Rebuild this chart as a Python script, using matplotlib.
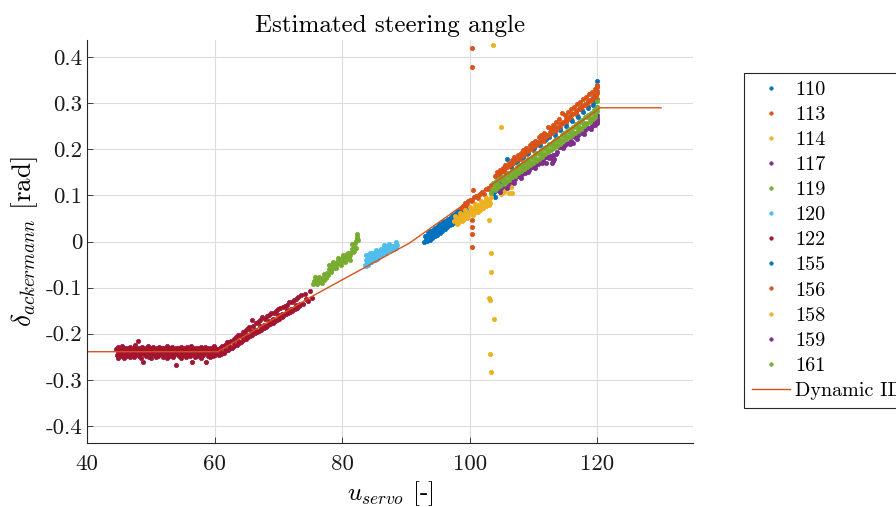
import matplotlib
matplotlib.use("Agg")
import matplotlib.pyplot as plt

plt.rcParams['font.family'] = 'serif'
plt.rcParams['font.serif'] = ['cmr10', 'DejaVu Serif']
plt.rcParams['mathtext.fontset'] = 'cm'
plt.rcParams['axes.unicode_minus'] = False

###################
# Data (read off) #
###################

x110 = [92.9, 93.1, 93.3, 93.5, 93.7, 93.9, 94.1, 94.3, 94.5, 94.7,
        94.9, 95.1, 95.3, 95.5, 95.7, 95.9, 96.1, 96.3, 96.5, 96.7,
        96.9, 97.1, 97.3, 97.5, 97.7, 97.9, 98.1, 98.3, 98.5, 98.7,
        98.9, 99.1, 99.3, 99.5,
        93.0, 93.4, 93.8, 94.2, 94.6, 95.0, 95.4, 95.8, 96.2, 96.6,
        97.0, 97.4, 97.8, 98.2, 98.6, 99.0, 99.6]
y110 = [0.000, 0.006, 0.001, 0.009, 0.004, 0.013, 0.008, 0.017, 0.011, 0.020,
        0.015, 0.024, 0.019, 0.029, 0.022, 0.033, 0.027, 0.037, 0.031, 0.041,
        0.035, 0.046, 0.039, 0.050, 0.042, 0.053, 0.047, 0.057, 0.050, 0.060,
        0.055, 0.064, 0.058, 0.067,
        0.013, 0.018, 0.022, 0.026, 0.029, 0.034, 0.037, 0.042, 0.045, 0.049,
        0.053, 0.057, 0.061, 0.066, 0.068, 0.072, 0.076]

x113 = [100.4, 100.4, 100.5, 100.3, 100.4, 100.3, 100.4,
        98.6, 98.9, 99.2, 99.5, 99.8, 100.1, 100.4, 100.7, 101.0, 101.3,
        101.6, 101.9, 102.2, 102.5, 102.8, 103.1, 103.4,
        104.6, 105.5, 106.4, 107.2, 108.1, 109.0, 109.9, 110.7, 111.6, 112.5,
        113.4, 114.2, 115.1, 115.9, 116.8, 117.6, 118.5, 119.3, 119.9, 120.0]
y113 = [0.419, 0.379, 0.111, 0.046, 0.031, 0.016, -0.012,
        0.072, 0.078, 0.083, 0.080, 0.088, 0.091, 0.087, 0.096, 0.099, 0.095,
        0.104, 0.108, 0.104, 0.113, 0.117, 0.114, 0.122,
        0.143, 0.151, 0.162, 0.172, 0.180, 0.190, 0.199, 0.210, 0.218, 0.228,
        0.238, 0.247, 0.256, 0.266, 0.275, 0.285, 0.293, 0.302, 0.310, 0.322]

x114 = [103.7, 104.85, 103.1, 103.3, 103.3, 103.1, 103.2, 103.8, 103.2, 103.3]
y114 = [0.426, 0.248, 0.046, -0.026, -0.066, -0.123, -0.127, -0.168, -0.244, -0.283]

x117 = [105.2, 106.3, 107.4, 108.5, 109.6, 110.6, 110.7, 111.8, 112.9, 113.0,
        113.0, 114.0, 115.1, 116.2, 117.3, 118.4, 119.5, 119.9, 120.0, 120.0]
y117 = [0.123, 0.132, 0.142, 0.151, 0.162, 0.175, 0.168, 0.184, 0.171, 0.180,
        0.188, 0.205, 0.212, 0.228, 0.239, 0.249, 0.258, 0.262, 0.268, 0.274]

x119 = [75.5, 75.6, 75.8, 76.0, 76.1, 76.3, 76.5, 76.7, 76.9, 77.0,
        77.2, 77.4, 77.6, 77.8, 77.9, 78.1, 78.3, 78.4, 78.6, 78.8,
        79.0, 79.1, 79.3, 79.5, 79.7, 79.9, 80.0, 80.2, 80.4, 80.6,
        80.8, 81.0, 81.1, 81.3, 81.5, 81.7, 81.8, 82.0, 82.1, 82.3,
        82.4, 82.5,
        75.7, 76.0, 76.4, 76.8, 77.1, 77.5, 77.9, 78.2, 78.6, 79.0,
        79.4, 79.8, 80.1, 80.5, 80.9, 81.2, 81.6, 81.9, 82.2, 82.4]
y119 = [-0.093, -0.085, -0.090, -0.084, -0.091, -0.087, -0.082, -0.088, -0.084, -0.079,
        -0.083, -0.075, -0.068, -0.072, -0.060, -0.055, -0.061, -0.049, -0.053, -0.057,
        -0.046, -0.050, -0.042, -0.047, -0.038, -0.043, -0.035, -0.040, -0.032, -0.037,
        -0.028, -0.034, -0.024, -0.030, -0.017, -0.023, -0.010, -0.003, -0.013, 0.007,
        0.016, 0.003,
        -0.078, -0.092, -0.076, -0.090, -0.070, -0.080, -0.052, -0.066, -0.045, -0.058,
        -0.036, -0.052, -0.030, -0.044, -0.024, -0.040, -0.006, -0.020, 0.002, 0.010]

x120 = [83.6, 83.7, 83.9, 84.0, 84.2, 84.3, 84.5, 84.7, 84.8, 85.0,
        85.1, 85.3, 85.5, 85.6, 85.8, 86.0, 86.1, 86.3, 86.5, 86.7,
        86.8, 87.0, 87.2, 87.4, 87.6, 87.8, 88.0, 88.2, 88.4, 88.6,
        83.8, 84.1, 85.2, 84.4, 85.9, 86.9,
        83.7, 84.1, 84.5, 84.9, 85.3, 85.7, 86.1, 86.5, 86.9, 87.3,
        87.7, 88.1, 88.5, 84.6, 85.4, 86.2]
y120 = [-0.050, -0.041, -0.046, -0.035, -0.039, -0.031, -0.036, -0.027, -0.032, -0.024,
        -0.029, -0.033, -0.025, -0.020, -0.027, -0.022, -0.017, -0.024, -0.019, -0.014,
        -0.021, -0.016, -0.012, -0.018, -0.013, -0.009, -0.015, -0.010, -0.013, -0.008,
        -0.054, -0.047, -0.040, -0.025, -0.032, -0.009,
        -0.030, -0.050, -0.026, -0.041, -0.018, -0.034, -0.028, -0.008, -0.025, -0.006,
        -0.019, -0.016, -0.002, -0.044, -0.038, -0.030]

x122 = [44.6, 44.8, 45.0, 45.3, 45.5, 45.7, 45.9, 46.2, 46.4, 46.6,
        46.8, 47.1, 47.3, 47.5, 47.7, 48.0, 48.2, 48.4, 48.6, 48.9,
        49.1, 49.3, 49.5, 49.8, 50.0, 50.2, 50.4, 50.7, 50.9, 51.1,
        51.3, 51.6, 51.8, 52.0, 52.2, 52.5, 52.7, 52.9, 53.1, 53.4,
        53.6, 53.8, 54.0, 54.3, 54.5, 54.7, 54.9, 55.2, 55.4, 55.6,
        55.8, 56.1, 56.3, 56.5, 56.7, 57.0, 57.2, 57.4, 57.6, 57.9,
        58.1, 58.3, 58.5, 58.8, 59.0, 59.2, 59.4, 59.7, 59.9, 60.1,
        44.7, 44.9, 45.2, 45.4, 45.6, 45.8, 46.1, 46.3, 46.5, 46.7,
        47.0, 47.2, 47.4, 47.6, 47.9, 48.1, 48.3, 48.5, 48.8, 49.0,
        49.2, 49.4, 49.7, 49.9, 50.1, 50.3, 50.6, 50.8, 51.0, 51.2,
        51.5, 51.7, 51.9, 52.1, 52.4, 52.6, 52.8, 53.0, 53.3, 53.5,
        53.7, 53.9, 54.2, 54.4, 54.6, 54.8, 55.1, 55.3, 55.5, 55.7,
        56.0, 56.2, 56.4, 56.6, 56.9, 57.1, 57.3, 57.5, 57.8, 58.0,
        58.2, 58.4, 58.7, 58.9, 59.1, 59.3, 59.6, 59.8, 60.0, 60.3,
        44.9, 45.3, 45.7, 46.1, 46.5, 46.9, 47.2, 47.6, 48.0, 48.4,
        48.8, 49.2, 49.6, 50.0, 50.4, 50.8, 51.2, 51.6, 52.0, 52.4,
        52.8, 53.2, 53.6, 54.0, 54.4, 54.8, 55.2, 55.6, 56.0, 56.4,
        56.8, 57.2, 57.6, 58.0, 58.4, 58.8, 59.2, 59.6, 60.0, 60.3,
        60.5, 60.9, 61.2, 61.6, 61.9, 62.3, 62.6, 63.0, 63.3, 63.7,
        64.0, 64.4, 64.7, 65.1, 65.4, 65.8, 66.1, 66.5, 66.8, 67.2,
        67.5, 67.9, 68.2, 68.6, 68.9, 69.3, 69.6, 70.0, 70.3, 70.7,
        71.0, 71.4, 71.7, 72.1, 72.4, 72.8, 73.1, 73.5, 74.2, 75.0,
        60.7, 61.0, 61.4, 61.7, 62.1, 62.4, 62.8, 63.1, 63.5, 63.8,
        64.2, 64.5, 64.9, 65.2, 65.6, 65.9, 66.3, 66.6, 67.0, 67.3,
        67.7, 68.0, 68.4, 68.7, 69.1, 69.4, 69.8, 70.1, 70.5, 70.8,
        71.2, 71.5, 71.9, 72.2, 72.6, 72.9, 73.3, 73.8, 74.6, 75.2,
        60.8, 61.5, 62.2, 62.9, 63.6, 64.3, 65.0, 65.7, 66.4, 67.1,
        67.8, 68.5, 69.2, 69.9, 70.6, 71.3, 72.0, 72.7, 73.4, 74.4]
y122 = [-0.234, -0.229, -0.236, -0.231, -0.227, -0.235, -0.232, -0.238, -0.230, -0.233,
        -0.228, -0.236, -0.231, -0.224, -0.234, -0.216, -0.232, -0.237, -0.229, -0.233,
        -0.235, -0.230, -0.227, -0.236, -0.232, -0.234, -0.229, -0.237, -0.231, -0.233,
        -0.228, -0.235, -0.232, -0.230, -0.236, -0.227, -0.234, -0.231, -0.238, -0.229,
        -0.233, -0.235, -0.230, -0.232, -0.236, -0.228, -0.234, -0.231, -0.237, -0.229,
        -0.233, -0.235, -0.227, -0.232, -0.234, -0.230, -0.236, -0.231, -0.233, -0.228,
        -0.235, -0.232, -0.229, -0.234, -0.231, -0.236, -0.230, -0.233, -0.226, -0.231,
        -0.247, -0.252, -0.243, -0.249, -0.245, -0.253, -0.241, -0.248, -0.244, -0.250,
        -0.246, -0.242, -0.251, -0.247, -0.243, -0.249, -0.245, -0.252, -0.261, -0.244,
        -0.248, -0.242, -0.250, -0.246, -0.253, -0.243, -0.247, -0.251, -0.244, -0.249,
        -0.245, -0.242, -0.250, -0.247, -0.243, -0.252, -0.246, -0.248, -0.244, -0.251,
        -0.247, -0.268, -0.243, -0.249, -0.245, -0.252, -0.246, -0.242, -0.250, -0.247,
        -0.244, -0.248, -0.262, -0.245, -0.251, -0.243, -0.249, -0.246, -0.252, -0.244,
        -0.247, -0.242, -0.262, -0.248, -0.245, -0.251, -0.243, -0.249, -0.246, -0.244,
        -0.240, -0.237, -0.241, -0.238, -0.243, -0.236, -0.240, -0.239, -0.242, -0.237,
        -0.241, -0.238, -0.240, -0.243, -0.236, -0.239, -0.241, -0.238, -0.242, -0.237,
        -0.240, -0.239, -0.243, -0.238, -0.236, -0.241, -0.239, -0.242, -0.237, -0.240,
        -0.238, -0.241, -0.239, -0.243, -0.237, -0.240, -0.238, -0.241, -0.239, -0.236,
        -0.233, -0.230, -0.226, -0.225, -0.219, -0.218, -0.216, -0.211, -0.207, -0.203,
        -0.202, -0.197, -0.194, -0.189, -0.185, -0.170, -0.184, -0.176, -0.174, -0.170,
        -0.164, -0.167, -0.162, -0.159, -0.154, -0.156, -0.150, -0.147, -0.144, -0.143,
        -0.139, -0.137, -0.132, -0.131, -0.126, -0.125, -0.121, -0.117, -0.114, -0.108,
        -0.247, -0.244, -0.242, -0.238, -0.236, -0.232, -0.230, -0.226, -0.224, -0.220,
        -0.217, -0.214, -0.212, -0.208, -0.205, -0.203, -0.199, -0.197, -0.193, -0.191,
        -0.188, -0.185, -0.182, -0.179, -0.176, -0.173, -0.170, -0.167, -0.164, -0.162,
        -0.158, -0.156, -0.152, -0.150, -0.146, -0.144, -0.140, -0.135, -0.129, -0.123,
        -0.238, -0.229, -0.227, -0.218, -0.215, -0.206, -0.203, -0.195, -0.192, -0.183,
        -0.181, -0.172, -0.169, -0.160, -0.158, -0.149, -0.146, -0.138, -0.135, -0.124]

x155 = [103.7, 103.8, 103.9, 104.1, 104.6, 105.2, 105.9, 106.5, 107.4, 108.3,
        109.2, 110.1, 111.0, 111.9, 112.4, 113.3, 114.2, 115.1, 116.0, 116.9,
        117.8, 118.6, 119.3, 119.8, 120.0, 120.0]
y155 = [0.100, 0.108, 0.096, 0.112, 0.128, 0.140, 0.180, 0.163, 0.172, 0.183,
        0.192, 0.202, 0.210, 0.222, 0.226, 0.232, 0.241, 0.251, 0.262, 0.271,
        0.280, 0.290, 0.296, 0.305, 0.348, 0.338]

x156 = [104.0, 104.2, 104.5, 104.7, 104.9, 105.2, 105.4, 105.6, 105.9, 106.1,
        106.3, 106.6, 106.8, 107.0, 107.3, 107.5, 107.7, 108.0, 108.2, 108.4,
        108.7, 108.9, 109.1, 109.4, 109.6, 109.8, 110.1, 110.3, 110.5, 110.8,
        111.0, 111.2, 111.5, 111.7, 111.9, 112.2, 112.4, 112.6, 112.9, 113.1,
        113.3, 113.6, 113.8, 114.0, 114.3, 114.5, 114.7, 115.0, 115.2, 115.4,
        115.7, 115.9, 116.1, 116.4, 116.6, 116.8, 117.1, 117.3, 117.5, 117.8,
        118.0, 118.2, 118.5, 118.7, 118.9, 119.2, 119.4, 119.6, 119.8, 120.0,
        104.1, 104.6, 105.1, 105.6, 106.1, 106.6, 107.1, 107.6, 108.1, 108.6,
        109.1, 109.6, 110.1, 110.6, 111.1, 111.6, 112.1, 112.6, 113.1, 113.6,
        114.1, 114.6, 115.1, 115.6, 116.1, 116.6, 117.1, 117.6, 118.1, 118.6,
        119.1, 119.5, 119.8, 120.0, 120.0]
y156 = [0.142, 0.150, 0.146, 0.156, 0.151, 0.160, 0.155, 0.166, 0.161, 0.171,
        0.165, 0.177, 0.171, 0.183, 0.177, 0.188, 0.181, 0.193, 0.186, 0.199,
        0.192, 0.203, 0.196, 0.210, 0.202, 0.214, 0.207, 0.219, 0.211, 0.226,
        0.216, 0.231, 0.221, 0.236, 0.226, 0.248, 0.232, 0.246, 0.236, 0.252,
        0.241, 0.260, 0.247, 0.265, 0.254, 0.279, 0.258, 0.275, 0.264, 0.281,
        0.270, 0.287, 0.276, 0.292, 0.281, 0.298, 0.287, 0.303, 0.292, 0.309,
        0.297, 0.314, 0.302, 0.319, 0.307, 0.325, 0.313, 0.330, 0.318, 0.335,
        0.142, 0.148, 0.153, 0.159, 0.165, 0.170, 0.176, 0.181, 0.187, 0.193,
        0.198, 0.204, 0.209, 0.215, 0.221, 0.226, 0.232, 0.237, 0.243, 0.249,
        0.254, 0.260, 0.265, 0.271, 0.277, 0.282, 0.288, 0.293, 0.299, 0.305,
        0.310, 0.316, 0.320, 0.326, 0.340]

x158 = [97.6, 97.9, 98.2, 98.5, 98.8, 99.1, 99.4, 99.7, 100.0, 100.3,
        100.6, 100.9, 101.2, 101.5, 101.8, 102.1, 102.4, 102.7, 103.0, 103.3,
        98.0, 98.9, 99.8, 100.7, 101.6, 102.5, 103.2,
        104.9, 105.3, 105.9, 106.2, 106.7, 106.4, 105.6,
        97.7, 98.1, 98.4, 98.8, 99.2, 99.6, 100.1, 100.5, 100.9, 101.3,
        101.7, 102.1, 102.6, 103.0, 99.0]
y158 = [0.044, 0.050, 0.047, 0.055, 0.053, 0.060, 0.058, 0.065, 0.063, 0.070,
        0.068, 0.075, 0.073, 0.080, 0.078, 0.086, 0.084, 0.091, 0.089, 0.096,
        0.038, 0.046, 0.055, 0.061, 0.069, 0.077, 0.084,
        0.104, 0.107, 0.131, 0.106, 0.105, 0.119, 0.113,
        0.055, 0.040, 0.062, 0.045, 0.068, 0.050, 0.074, 0.058, 0.081, 0.065,
        0.087, 0.072, 0.095, 0.080, 0.052]

x159 = [104.4, 104.9, 105.5, 106.0, 106.6, 107.1, 107.7, 108.2, 108.8, 109.3,
        109.9, 110.4, 111.0, 111.5, 112.1, 112.6, 113.2, 113.7, 114.3, 114.8,
        115.4, 115.9, 116.5, 117.0, 117.6, 118.1, 118.7, 119.2, 119.8, 120.0,
        104.7, 105.8, 106.9, 108.0, 109.1, 110.2, 111.3, 112.4, 113.5, 114.6,
        115.7, 116.8, 117.9, 119.0, 119.6, 120.0, 108.6, 111.9, 113.1, 116.2]
y159 = [0.111, 0.116, 0.121, 0.125, 0.130, 0.136, 0.141, 0.146, 0.150, 0.156,
        0.161, 0.168, 0.172, 0.177, 0.183, 0.186, 0.178, 0.195, 0.204, 0.208,
        0.214, 0.219, 0.226, 0.230, 0.236, 0.241, 0.247, 0.251, 0.257, 0.263,
        0.108, 0.117, 0.127, 0.137, 0.150, 0.160, 0.171, 0.182, 0.190, 0.202,
        0.212, 0.223, 0.233, 0.245, 0.252, 0.258, 0.148, 0.170, 0.174, 0.214]

x161 = [103.4, 103.6, 103.9, 104.1, 104.3, 104.6, 104.8, 105.0, 105.3, 105.5,
        105.7, 106.0, 106.2, 106.4, 106.7, 106.9, 107.1, 107.4, 107.6, 107.8,
        108.1, 108.3, 108.5, 108.8, 109.0, 109.2, 109.5, 109.7, 109.9, 110.2,
        110.4, 110.6, 110.9, 111.1, 111.3, 111.6, 111.8, 112.0, 112.3, 112.5,
        112.7, 113.0, 113.2, 113.4, 113.7, 113.9, 114.1, 114.4, 114.6, 114.8,
        115.1, 115.3, 115.5, 115.8, 116.0, 116.2, 116.5, 116.7, 116.9, 117.2,
        117.4, 117.6, 117.9, 118.1, 118.3, 118.6, 118.8, 119.0, 119.3, 119.5,
        119.7, 119.9, 120.0, 120.0,
        103.5, 104.0, 104.5, 105.0, 105.4, 105.9, 106.4, 106.9, 107.4, 107.9,
        108.4, 108.9, 109.4, 109.9, 110.3, 110.8, 111.3, 111.8, 112.3, 112.8,
        113.3, 113.8, 114.3, 114.8, 115.2, 115.7, 116.2, 116.7, 117.2, 117.7,
        118.2, 118.7, 119.2, 119.6, 120.0]
y161 = [0.106, 0.126, 0.112, 0.131, 0.116, 0.135, 0.120, 0.139, 0.125, 0.143,
        0.130, 0.148, 0.134, 0.151, 0.139, 0.156, 0.143, 0.161, 0.148, 0.165,
        0.153, 0.170, 0.157, 0.175, 0.161, 0.179, 0.167, 0.184, 0.171, 0.189,
        0.175, 0.193, 0.180, 0.198, 0.184, 0.203, 0.189, 0.206, 0.194, 0.212,
        0.198, 0.216, 0.203, 0.220, 0.208, 0.225, 0.212, 0.230, 0.217, 0.235,
        0.222, 0.239, 0.226, 0.245, 0.231, 0.249, 0.236, 0.254, 0.240, 0.259,
        0.245, 0.264, 0.250, 0.269, 0.254, 0.274, 0.259, 0.279, 0.265, 0.285,
        0.270, 0.292, 0.305, 0.282,
        0.114, 0.123, 0.124, 0.133, 0.133, 0.141, 0.142, 0.151, 0.152, 0.161,
        0.162, 0.171, 0.172, 0.181, 0.181, 0.190, 0.190, 0.200, 0.200, 0.209,
        0.210, 0.219, 0.220, 0.229, 0.229, 0.238, 0.238, 0.248, 0.248, 0.258,
        0.258, 0.268, 0.268, 0.276, 0.292]

# identified model (piecewise linear)
model_x = [40, 60.5, 75.0, 90.6, 120.5, 130]
model_y = [-0.239, -0.239, -0.121, -0.003, 0.290, 0.290]

series = [('110', x110, y110), ('113', x113, y113), ('114', x114, y114),
          ('117', x117, y117), ('119', x119, y119), ('120', x120, y120),
          ('122', x122, y122), ('155', x155, y155), ('156', x156, y156),
          ('158', x158, y158), ('159', x159, y159), ('161', x161, y161)]

# matlab default colour order
colors = ['#0072BD', '#D95319', '#EDB120', '#7E2F8E', '#77AC30', '#4DBEEE', '#A2142F']

############
# Plotting #
############

fig = plt.figure(figsize=(8.96, 5.07), dpi=100)
ax = fig.add_axes([0.0971, 0.1262, 0.6763, 0.7949])

for i, (name, xs, ys) in enumerate(series):
    ax.plot(xs, ys, '.', color=colors[i % 7], markersize=6.2, mew=0.5, label=name)
ax.plot(model_x, model_y, '-', color='#D95319', linewidth=1.0, label='Dynamic ID')

ax.set_xlim(40, 135)
ax.set_ylim(-0.437, 0.437)
ax.set_xticks([40, 60, 80, 100, 120])
ax.set_xticklabels(['40', '60', '80', '100', '120'])
yt = [-0.4, -0.3, -0.2, -0.1, 0, 0.1, 0.2, 0.3, 0.4]
ax.set_yticks(yt)
ax.set_yticklabels(['-0.4', '-0.3', '-0.2', '-0.1', '0', '0.1', '0.2', '0.3', '0.4'])

ax.grid(True, color='#dcdcdc', linewidth=0.8)
ax.set_axisbelow(True)
for s in ['top', 'right']:
    ax.spines[s].set_visible(False)
for s in ['left', 'bottom']:
    ax.spines[s].set_color('#262626')
    ax.spines[s].set_linewidth(0.8)
ax.tick_params(direction='in', length=4, width=0.6, color='#262626',
               labelsize=16.5, labelcolor='#1a1a1a')
ax.tick_params(axis='x', pad=8)

ax.set_title('Estimated steering angle', fontsize=18, pad=6)
ax.set_xlabel(r'$u_{servo}$ [-]', fontsize=18, labelpad=4)
ax.set_ylabel(r'$\delta_{ackermann}$ [rad]', fontsize=19.5, labelpad=4)

leg = ax.legend(loc='upper left', bbox_to_anchor=(744 / 896, 1 - 73 / 507),
                bbox_transform=fig.transFigure, fontsize=14.5, frameon=True,
                fancybox=False, framealpha=1, edgecolor='#262626',
                handlelength=1.9, handletextpad=0.25, labelspacing=0.345,
                borderaxespad=0)
leg.get_frame().set_linewidth(0.8)
for h in leg.legend_handles[:-1]:
    h.set_markersize(5)

plt.savefig('out.png', dpi=100)
